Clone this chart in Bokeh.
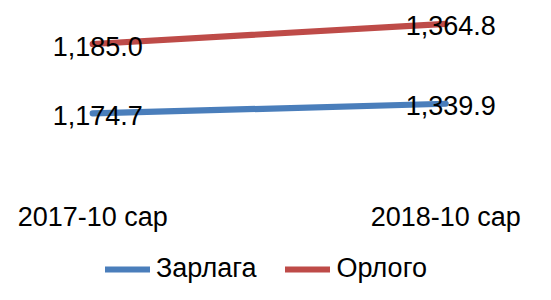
from bokeh.plotting import figure
from bokeh.models import (ColumnDataSource, Range1d, LinearAxis, FixedTicker,
                          Legend, LegendItem)
from bokeh.transform import stack
from bokeh.core.properties import value
from bokeh.embed import file_html
from bokeh.resources import INLINE

# ---- data ----
categories = ["2017-10 сар", "2018-10 сар"]
series_names = ["Зарлага", "Орлого"]
zarlaga = [1174.7, 1339.9]
orlogo = [1185.0, 1364.8]

BLUE = "#4A7EBB"
RED = "#BE4B48"
FONT = "Liberation Sans"

x = list(range(len(categories)))
src = ColumnDataSource(dict(
    x=x,
    zarlaga=zarlaga,
    orlogo=orlogo,
    zarlaga_lbl=[f"{v:,.1f}" for v in zarlaga],
    orlogo_lbl=[f"{v:,.1f}" for v in orlogo],
))

p = figure(width=535, height=284, output_backend="svg", toolbar_location=None,
           x_range=Range1d(-0.2612, 1.2544), y_range=Range1d(-1744, 3102),
           x_axis_location=None, y_axis_location=None, min_border=0,
           outline_line_color=None, background_fill_color="white",
           border_fill_color="white")
p.grid.visible = False

# stacked lines
r1 = p.line("x", stack("zarlaga"), source=src, line_color=BLUE,
            line_width=6.2, line_cap="round")
r2 = p.line("x", stack("zarlaga", "orlogo"), source=src, line_color=RED,
            line_width=6.2, line_cap="round")

# data labels
common = dict(text_font=value(FONT), text_font_size="27px", text_align="center",
              text_baseline="middle", x_offset=5, y_offset=2, text_color="black")
p.text("x", stack("zarlaga"), text="zarlaga_lbl", source=src, **common)
p.text("x", stack("zarlaga", "orlogo"), text="orlogo_lbl", source=src, **common)

# category axis
xaxis = LinearAxis(ticker=FixedTicker(ticks=x),
                   major_label_overrides={i: c for i, c in zip(x, categories)},
                   fixed_location=0)
xaxis.axis_line_color = None
xaxis.major_tick_line_color = None
xaxis.minor_tick_line_color = None
xaxis.major_tick_out = 0
xaxis.major_tick_in = 0
xaxis.major_label_standoff = 20
xaxis.major_label_text_font = FONT
xaxis.major_label_text_font_size = "27px"
xaxis.major_label_text_color = "black"
p.add_layout(xaxis, "below")

legend = Legend(items=[LegendItem(label=series_names[0], renderers=[r1]),
                       LegendItem(label=series_names[1], renderers=[r2])],
                orientation="horizontal", location=(105, 0),
                glyph_width=45, glyph_height=20, label_standoff=6, spacing=29,
                padding=0, margin=0, border_line_color=None,
                background_fill_alpha=0, label_text_font=FONT,
                label_text_font_size="27px", label_text_color="black")
p.add_layout(legend)

open("out.html", "w", encoding="utf-8").write(file_html(p, INLINE))
